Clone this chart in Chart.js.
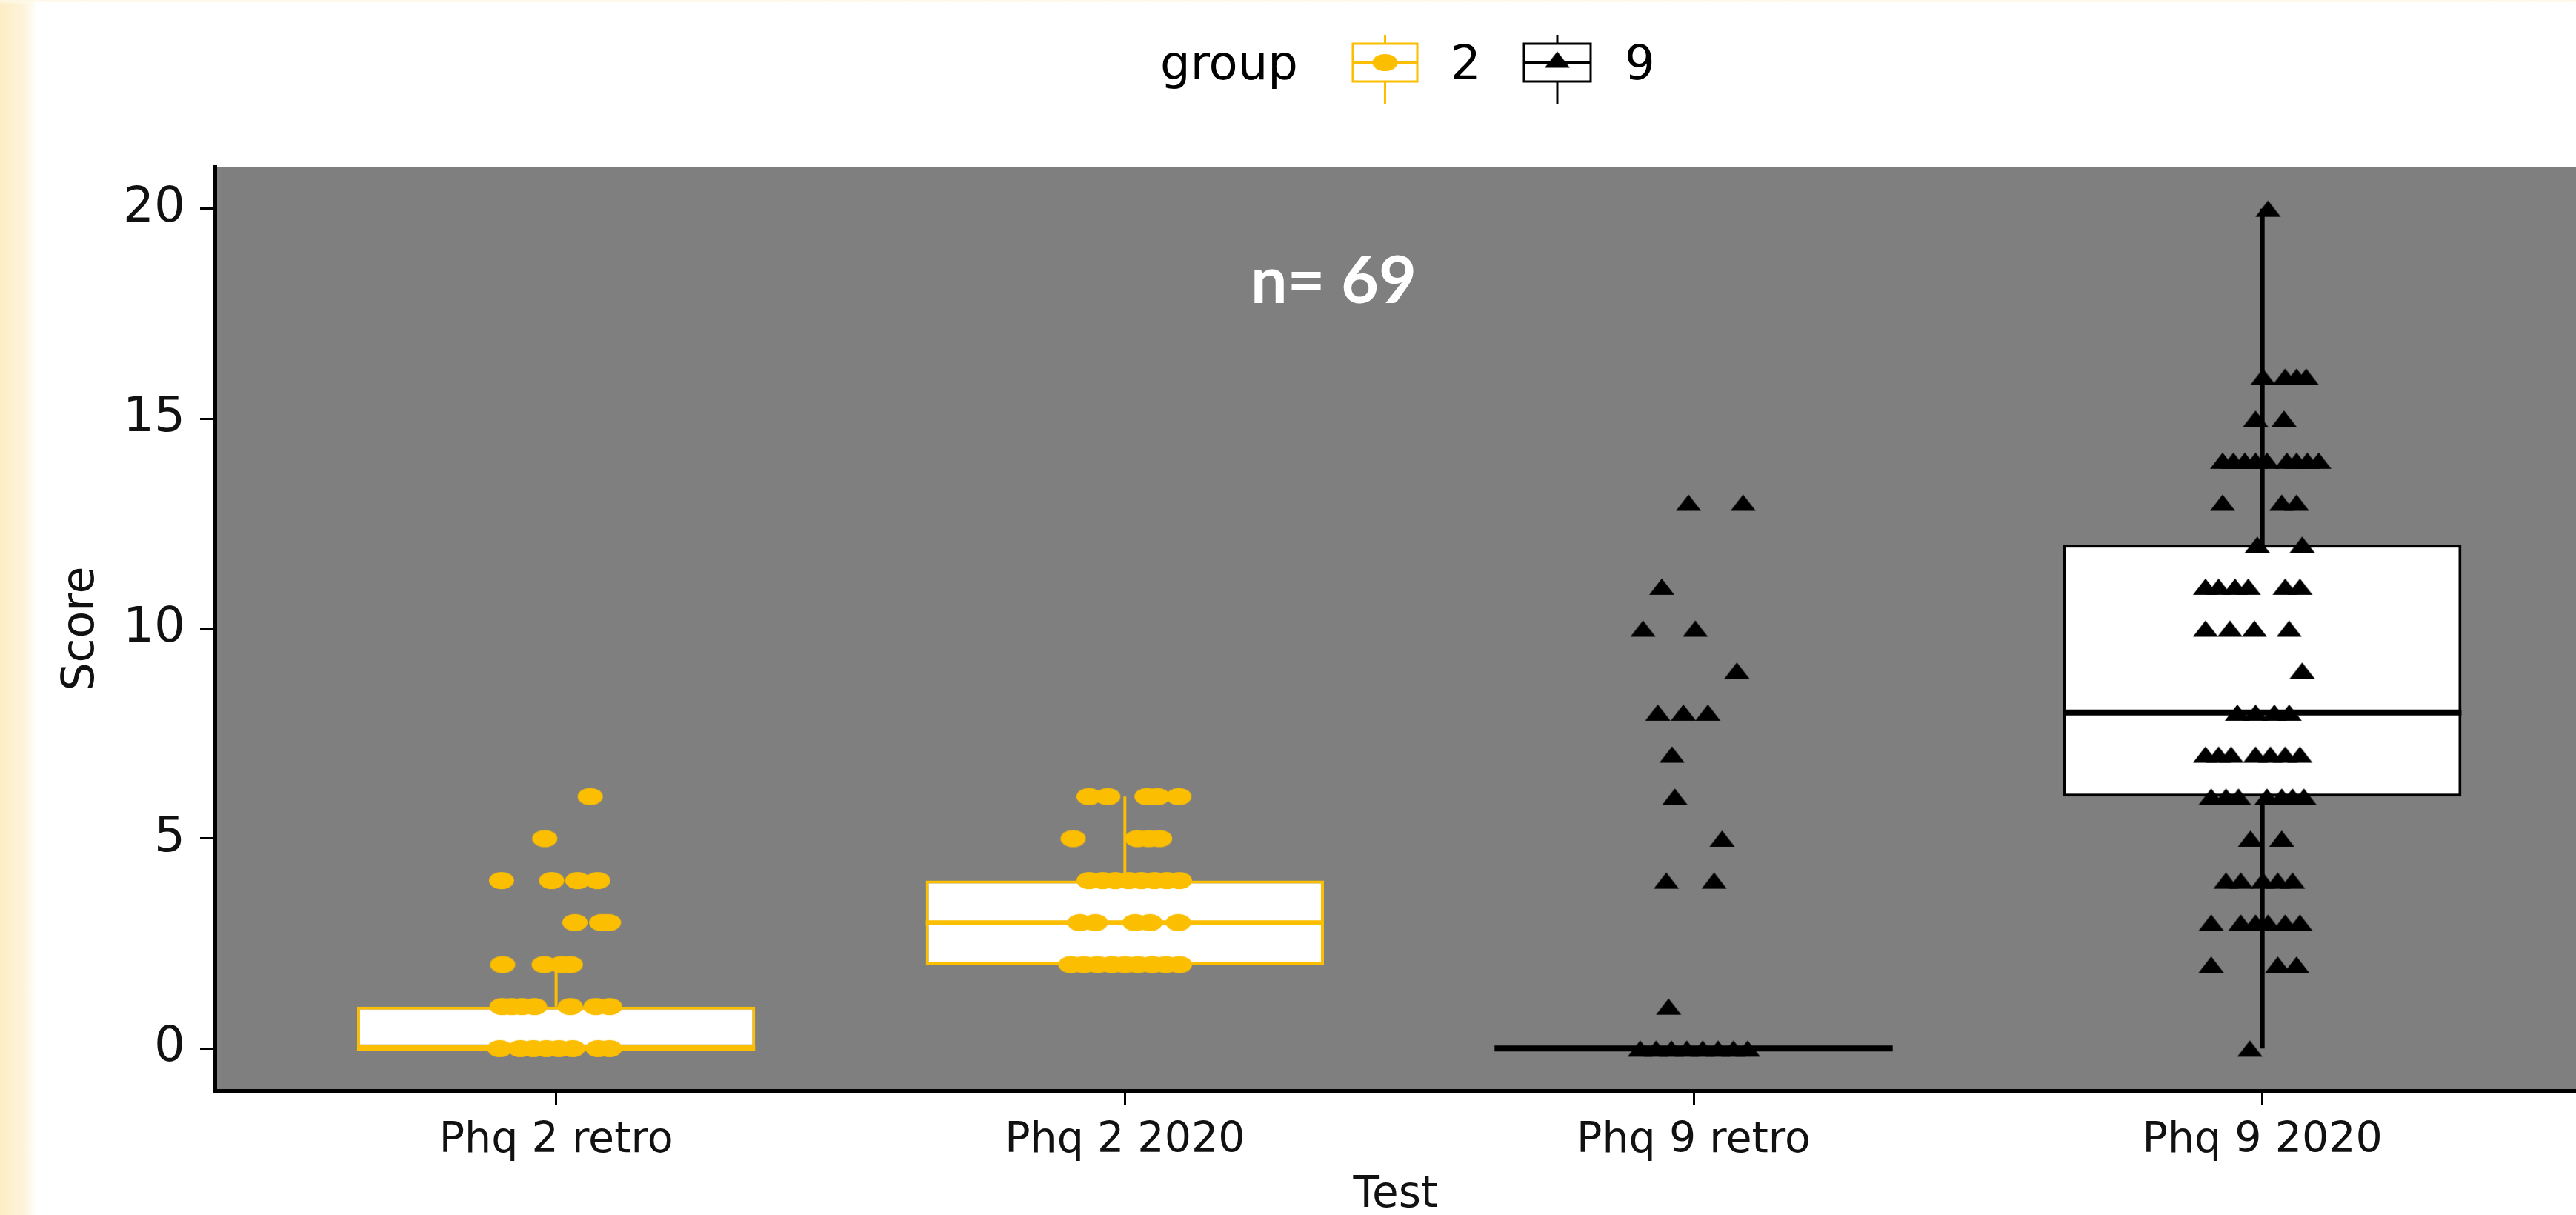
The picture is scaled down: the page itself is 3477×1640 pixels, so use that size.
<!DOCTYPE html>
<html>
<head>
<meta charset="utf-8">
<script src="https://cdn.jsdelivr.net/npm/chart.js@4.4.1/dist/chart.umd.min.js"></script>
<style>
html, body { margin: 0; padding: 0; background: #ffffff; }
#wrap { width: 3477px; height: 1640px; position: relative; }
</style>
</head>
<body>
<div id="wrap"><canvas id="c" width="3477" height="1640"></canvas></div>
<script>
// ---------------- data ----------------
const categories = ['Phq 2 retro', 'Phq 2 2020', 'Phq 9 retro', 'Phq 9 2020'];
const testGroup = ['2', '2', '9', '9'];
const legendGroups = ['2', '9'];
const q1 = [0, 2, 0, 6];
const medians = [0, 3, 0, 8];
const q3 = [1, 4, 0, 12];
const whiskerLow = [0, 2, 0, 0];
const whiskerHigh = [2, 6, 0, 20];
const yTicks = [0, 5, 10, 15, 20];
const nLabel = 'n= 69';

const phq2RetroScores = [6, 5, 4, 4, 4, 4, 3, 3, 3, 2, 2, 2, 2, 1, 1, 1, 1, 1, 1, 1, 0, 0, 0, 0, 0, 0, 0, 0];
const phq2RetroJitter = [0.06, -0.02, -0.096, -0.008, 0.038, 0.073, 0.033, 0.080, 0.092, -0.094, -0.021, 0.009, 0.025,
  -0.095, -0.078, -0.060, -0.038, 0.025, 0.070, 0.094, -0.099, -0.063, -0.040, -0.017, 0.005, 0.029, 0.074, 0.094];

const phq2Y2020Scores = [6, 6, 6, 6, 6, 5, 5, 5, 5, 4, 4, 4, 4, 4, 4, 4, 4, 3, 3, 3, 3, 3, 2, 2, 2, 2, 2, 2, 2, 2, 2];
const phq2Y2020Jitter = [-0.063, -0.030, 0.039, 0.057, 0.095, -0.091, 0.022, 0.042, 0.061,
  -0.063, -0.039, -0.017, 0.007, 0.029, 0.052, 0.074, 0.096, -0.079, -0.052, 0.018, 0.044, 0.094,
  -0.095, -0.072, -0.048, -0.023, 0, 0.023, 0.048, 0.072, 0.096];

const phq9RetroScores = [13, 13, 11, 10, 10, 9, 8, 8, 8, 7, 6, 5, 4, 4, 1, 0, 0, 0, 0, 0, 0, 0, 0];
const phq9RetroJitter = [-0.009, 0.087, -0.056, -0.089, 0.003, 0.076, -0.063, -0.018, 0.025, -0.038, -0.033, 0.050,
  -0.048, 0.036, -0.044, -0.094, -0.066, -0.039, -0.012, 0.016, 0.043, 0.070, 0.095];

const phq9Y2020Scores = [20, 16, 16, 16, 16, 15, 15, 14, 14, 14, 14, 14, 14, 14, 14, 14, 13, 13, 13, 12, 12,
  11, 11, 11, 11, 11, 11, 10, 10, 10, 10, 9, 8, 8, 8, 8, 7, 7, 7, 7, 7, 7, 7, 6, 6, 6, 6, 6, 6, 6,
  5, 5, 4, 4, 4, 4, 4, 3, 3, 3, 3, 3, 3, 2, 2, 2, 0];
const phq9Y2020Jitter = [0.010, 0.001, 0.040, 0.060, 0.077, -0.012, 0.038,
  -0.070, -0.051, -0.031, -0.012, 0.008, 0.043, 0.060, 0.079, 0.099,
  -0.070, 0.034, 0.060, -0.009, 0.070,
  -0.100, -0.077, -0.048, -0.025, 0.040, 0.066, -0.100, -0.057, -0.014, 0.047, 0.070,
  -0.044, -0.012, 0.021, 0.047, -0.100, -0.077, -0.055, -0.012, 0.014, 0.040, 0.066,
  -0.090, -0.064, -0.042, 0.008, 0.034, 0.053, 0.073,
  -0.021, 0.034, -0.064, -0.038, 0.001, 0.027, 0.053,
  -0.090, -0.038, -0.012, 0.010, 0.040, 0.066, -0.090, 0.027, 0.060, -0.022];

const scoresByTest = [phq2RetroScores, phq2Y2020Scores, phq9RetroScores, phq9Y2020Scores];
const jitterByTest = [phq2RetroJitter, phq2Y2020Jitter, phq9RetroJitter, phq9Y2020Jitter];

// ---------------- styles ----------------
const YELLOW = '#FBBE00';
const BLACK = '#000000';
const PANEL = '#7F7F7F';
const groupColor = { '2': YELLOW, '9': BLACK };
const boxHalf = 0.35;
const FONT = '"DejaVu Sans", "Liberation Sans", Arial, sans-serif';

function makeEllipse(color) {
  const c = document.createElement('canvas');
  c.width = 36; c.height = 25;
  const g = c.getContext('2d');
  g.fillStyle = color;
  g.beginPath();
  g.ellipse(18, 12.5, 17, 11.5, 0, 0, Math.PI * 2);
  g.fill();
  return c;
}
function makeTriangle(color) {
  const c = document.createElement('canvas');
  c.width = 36; c.height = 24;
  const g = c.getContext('2d');
  g.fillStyle = color;
  g.beginPath();
  g.moveTo(18, 1); g.lineTo(35, 23); g.lineTo(1, 23); g.closePath();
  g.fill();
  return c;
}
const pointSprites = { '2': makeEllipse(YELLOW), '9': makeTriangle(BLACK) };

// ---------------- datasets built from the arrays ----------------
function pointsFor(group) {
  const out = [];
  categories.forEach((cat, i) => {
    if (testGroup[i] !== group) return;
    scoresByTest[i].forEach((v, k) => out.push({ x: i + 1 + jitterByTest[i][k], y: v }));
  });
  return out;
}
function whiskersFor(group) {
  const out = [];
  categories.forEach((cat, i) => {
    if (testGroup[i] !== group) return;
    const c = i + 1;
    out.push({ x: c, y: q3[i] }, { x: c, y: whiskerHigh[i] }, { x: c, y: null });
    out.push({ x: c, y: q1[i] }, { x: c, y: whiskerLow[i] }, { x: c, y: null });
  });
  return out;
}
function mediansFor(group) {
  const out = [];
  categories.forEach((cat, i) => {
    if (testGroup[i] !== group) return;
    const c = i + 1;
    out.push({ x: c - boxHalf, y: medians[i] }, { x: c + boxHalf, y: medians[i] }, { x: c, y: null });
  });
  return out;
}

const datasets = [
  {
    type: 'bar', label: 'boxes',
    data: categories.map((c, i) => ({ x: i + 1, y: [q1[i], q3[i]] })),
    backgroundColor: '#ffffff',
    borderColor: testGroup.map(g => groupColor[g]),
    borderWidth: 4, borderSkipped: false,
    barPercentage: boxHalf * 2, categoryPercentage: 1,
    order: 5
  },
  { type: 'line', label: 'whisk2', data: whiskersFor('2'), borderColor: YELLOW, borderWidth: 4, pointRadius: 0, spanGaps: false, order: 4 },
  { type: 'line', label: 'whisk9', data: whiskersFor('9'), borderColor: BLACK, borderWidth: 6, pointRadius: 0, spanGaps: false, order: 4 },
  { type: 'line', label: 'med2', data: mediansFor('2'), borderColor: YELLOW, borderWidth: 6, pointRadius: 0, spanGaps: false, order: 3 },
  { type: 'line', label: 'med9', data: mediansFor('9'), borderColor: BLACK, borderWidth: 8, pointRadius: 0, spanGaps: false, order: 3 },
  { type: 'scatter', label: '2', data: pointsFor('2'), pointStyle: pointSprites['2'], pointRadius: 12, order: 1 },
  { type: 'scatter', label: '9', data: pointsFor('9'), pointStyle: pointSprites['9'], pointRadius: 12, order: 0 }
];

// ---------------- plugins ----------------
const backgroundPlugin = {
  id: 'bg',
  beforeDraw(chart) {
    const { ctx, chartArea, width, height } = chart;
    ctx.save();
    ctx.fillStyle = '#ffffff';
    ctx.fillRect(0, 0, width, height);
    const gr = ctx.createLinearGradient(0, 0, 50, 0);
    gr.addColorStop(0, 'rgb(253,237,196)');
    gr.addColorStop(0.65, 'rgb(254,244,220)');
    gr.addColorStop(1, 'rgba(255,255,255,1)');
    ctx.fillStyle = gr;
    ctx.fillRect(0, 0, 50, height);
    const gt = ctx.createLinearGradient(0, 0, 0, 6);
    gt.addColorStop(0, 'rgb(254,246,226)');
    gt.addColorStop(1, 'rgba(255,255,255,0)');
    ctx.fillStyle = gt;
    ctx.fillRect(0, 0, width, 6);
    ctx.fillStyle = PANEL;
    ctx.fillRect(chartArea.left, chartArea.top, chartArea.right - chartArea.left, chartArea.bottom - chartArea.top);
    ctx.restore();
  }
};

function drawKey(ctx, x, y, w, h, color, sprite, withMedian) {
  const cx = x + w / 2;
  ctx.strokeStyle = color;
  ctx.lineWidth = 3;
  ctx.beginPath();
  ctx.moveTo(cx, y - 12); ctx.lineTo(cx, y);
  ctx.moveTo(cx, y + h); ctx.lineTo(cx, y + h + 30);
  ctx.stroke();
  ctx.fillStyle = '#ffffff';
  ctx.fillRect(x, y, w, h);
  ctx.strokeRect(x, y, w, h);
  ctx.beginPath();
  ctx.moveTo(x, y + h / 2); ctx.lineTo(x + w, y + h / 2);
  ctx.stroke();
  ctx.drawImage(sprite, cx - sprite.width / 2, y + h / 2 - sprite.height / 2 - (withMedian ? 4 : 0));
}

const legendPlugin = {
  id: 'ggLegend',
  afterDraw(chart) {
    const ctx = chart.ctx;
    ctx.save();
    ctx.font = '64px ' + FONT;
    ctx.fillStyle = '#000';
    ctx.textAlign = 'left';
    ctx.textBaseline = 'alphabetic';
    ctx.fillText('group', 1566, 107);
    drawKey(ctx, 1826, 59, 87, 51, groupColor[legendGroups[0]], pointSprites[legendGroups[0]], false);
    ctx.fillStyle = '#000';
    ctx.fillText(legendGroups[0], 1958, 107);
    drawKey(ctx, 2057, 59, 90, 51, groupColor[legendGroups[1]], pointSprites[legendGroups[1]], true);
    ctx.fillStyle = '#000';
    ctx.fillText(legendGroups[1], 2193, 107);

    // n annotation
    const xs = chart.scales.x, ys = chart.scales.y;
    ctx.font = 'bold 88px Lato, "Open Sans", sans-serif';
    ctx.fillStyle = '#ffffff';
    ctx.textAlign = 'center';
    ctx.textBaseline = 'middle';
    ctx.fillText(nLabel, xs.getPixelForValue(2.367), ys.getPixelForValue(18.25));
    ctx.restore();
  }
};

// ---------------- chart ----------------
new Chart(document.getElementById('c'), {
  type: 'scatter',
  data: { datasets },
  options: {
    responsive: false,
    animation: false,
    events: [],
    layout: { autoPadding: false, padding: { top: 225, left: 0, right: 0, bottom: 0 } },
    plugins: { legend: { display: false }, tooltip: { enabled: false }, title: { display: false } },
    scales: {
      x: {
        type: 'linear',
        min: 0.4, max: 4.5514,
        offset: false,
        afterBuildTicks(scale) { scale.ticks = categories.map((c, i) => ({ value: i + 1 })); },
        afterFit(scale) { scale.height = 168; scale.paddingLeft = 0; scale.paddingRight = 0; },
        ticks: {
          callback: (v) => categories[Math.round(v) - 1],
          autoSkip: false, maxRotation: 0, minRotation: 0,
          font: { family: FONT, size: 57 }, color: '#111', padding: 14
        },
        grid: { offset: false, drawOnChartArea: false, drawTicks: true, tickLength: 20, color: '#000', lineWidth: 3 },
        border: { display: true, color: '#000', width: 5 },
        title: { display: true, text: 'Test', font: { family: FONT, size: 58, lineHeight: 0.9 }, color: '#111', padding: { top: 0, bottom: 0 } }
      },
      y: {
        type: 'linear',
        min: -1, max: 21,
        afterBuildTicks(scale) { scale.ticks = yTicks.map(v => ({ value: v })); },
        afterFit(scale) { scale.width = 290; scale.paddingTop = 0; scale.paddingBottom = 0; },
        ticks: { font: { family: FONT, size: 66 }, color: '#111', padding: 20 },
        grid: { offset: false, drawOnChartArea: false, drawTicks: true, tickLength: 20, color: '#000', lineWidth: 3 },
        border: { display: true, color: '#000', width: 5 },
        title: { display: true, text: 'Score', font: { family: FONT, size: 60 }, color: '#111', padding: { top: 74, bottom: 0 } }
      }
    }
  },
  plugins: [backgroundPlugin, legendPlugin]
});
</script>
</body>
</html>
